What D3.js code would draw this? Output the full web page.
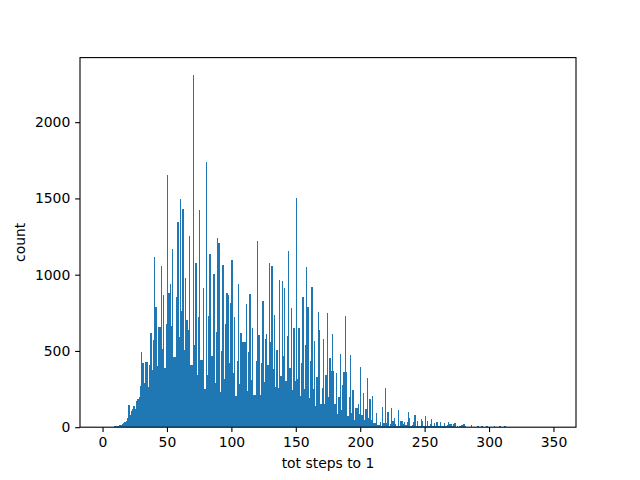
<!DOCTYPE html>
<html>
<head>
<meta charset="utf-8">
<script src="https://cdn.jsdelivr.net/npm/d3@7"></script>
<style>
  body { margin: 0; background: #fff; }
  svg { display: block; }
  .axis text { font-family: "DejaVu Sans", sans-serif; font-size: 13.9px; fill: #000; }
  .axis line { stroke: #000; stroke-width: 1.1; }
  .label { font-family: "DejaVu Sans", sans-serif; font-size: 13.9px; fill: #000; }
</style>
</head>
<body>
<div id="chart"></div>
<script>
// histogram counts, one bin per step count (bin k covers [k, k+1))
const countsSteps0 = [
  1, 1, 1, 1, 1, 2, 2, 4, 4, 6,
  6, 8, 10, 14, 17, 24, 26, 36, 40, 60,
  145, 79, 107, 120, 138, 122, 172, 183, 197, 269,
  492, 422, 289, 426, 426, 262, 407, 615, 376, 571,
  1115, 789, 400, 658, 658, 1056, 514, 870, 387, 675
];
const countsSteps50 = [
  1655, 881, 940, 665, 1170, 461, 461, 855, 1347, 592,
  1495, 761, 1430, 507, 977, 702, 636, 1253, 409, 409,
  2308, 538, 1076, 343, 721, 1423, 442, 442, 912, 251,
  1738, 343, 727, 1135, 466, 466, 1003, 289, 623, 1240,
  1207, 230, 498, 1062, 315, 675, 879, 866, 420, 813
];
const countsSteps100 = [
  1096, 354, 721, 203, 433, 938, 282, 616, 557, 557,
  557, 807, 236, 492, 872, 308, 649, 210, 210, 433,
  1220, 603, 210, 420, 826, 295, 577, 610, 407, 1075,
  557, 1056, 380, 734, 262, 505, 256, 964, 334, 957,
  466, 912, 302, 597, 1154, 387, 780, 243, 649, 300
];
const countsSteps150 = [
  1502, 315, 649, 203, 420, 853, 249, 538, 1049, 787,
  190, 433, 918, 249, 564, 138, 328, 754, 636, 151,
  256, 577, 151, 341, 748, 197, 452, 367, 610, 367,
  151, 354, 85, 197, 479, 111, 275, 361, 728, 361,
  72, 197, 472, 92, 243, 46, 125, 125, 150, 85
];
const countsSteps200 = [
  393, 79, 223, 46, 118, 321, 59, 184, 46, 203,
  26, 26, 92, 13, 13, 33, 10, 131, 26, 256,
  26, 98, 7, 20, 125, 39, 59, 20, 7, 111,
  7, 39, 39, 20, 33, 13, 33, 98, 59, 7,
  13, 33, 79, 7, 39, 7, 7, 52, 39, 7
];
const countsSteps250 = [
  72, 7, 39, 7, 20, 52, 7, 26, 7, 33,
  5, 7, 33, 5, 7, 26, 5, 13, 33, 20,
  20, 5, 20, 26, 4, 5, 4, 5, 13, 13,
  20, 7, 3, 4, 3, 3, 13, 3, 3, 3,
  3, 7, 2, 3, 7, 2, 3, 2, 7, 2
];
const countsSteps300 = [
  2, 3, 2, 2, 7, 2, 1, 2, 7, 1,
  2, 1, 7, 1, 1, 2, 1, 1, 1, 0,
  1, 0, 1, 1, 0, 1, 0, 1, 0, 0,
  1, 0, 0, 1, 0, 0, 0, 1, 0, 0,
  0, 1, 0, 0, 0, 0, 0, 0, 0, 1
];

const xTicks = [0, 50, 100, 150, 200, 250, 300, 350];
const yTicks = [0, 500, 1000, 1500, 2000];
const xLabel = 'tot steps to 1';
const yLabel = 'count';

const counts = [].concat(countsSteps0, countsSteps50, countsSteps100,
                         countsSteps150, countsSteps200, countsSteps250,
                         countsSteps300);
const bins = counts.map((c, i) => ({x0: i, x1: i + 1, count: c}));

// figure size and axes box (matplotlib defaults)
const width = 640;
const height = 480;
const margin = {top: 57.6, right: 64, bottom: 52.8, left: 80};
const innerW = width - margin.left - margin.right;
const innerH = height - margin.top - margin.bottom;

const svg = d3.select('#chart')
              .append('svg')
              .attr('width', width)
              .attr('height', height);

const g = svg.append('g')
             .attr('transform', `translate(${margin.left}, ${margin.top})`);

// x domain padded by 5% like matplotlib autoscale
const xMin = 0;
const xMax = 350;
const pad = (xMax - xMin) * 0.05;
const xScale = d3.scaleLinear()
                 .domain([xMin - pad, xMax + pad])
                 .range([0, innerW]);

const yScale = d3.scaleLinear()
                 .domain([0, d3.max(counts) * 1.05])
                 .range([innerH, 0]);

// bars
g.append('g')
 .selectAll('rect')
 .data(bins)
 .join('rect')
 .attr('x', d => xScale(d.x0))
 .attr('width', d => xScale(d.x1) - xScale(d.x0))
 .attr('y', d => yScale(d.count))
 .attr('height', d => yScale(0) - yScale(d.count))
 .attr('fill', '#1f77b4')
 .attr('shape-rendering', 'crispEdges');

const tickLen = 4.86;

// x axis
const xAxis = g.append('g')
               .attr('class', 'axis')
               .attr('transform', `translate(0, ${innerH})`)
               .call(
                 d3.axisBottom(xScale)
                   .tickValues(xTicks)
                   .tickSize(tickLen)
                   .tickPadding(4.86)
                   .tickFormat(d3.format('d'))
               );
xAxis.select('.domain').remove();

// y axis
const yAxis = g.append('g')
               .attr('class', 'axis')
               .call(
                 d3.axisLeft(yScale)
                   .tickValues(yTicks)
                   .tickSize(tickLen)
                   .tickPadding(4.86)
                   .tickFormat(d3.format('d'))
               );
yAxis.select('.domain').remove();

// spines
g.append('rect')
 .attr('width', innerW)
 .attr('height', innerH)
 .attr('fill', 'none')
 .attr('stroke', '#000')
 .attr('stroke-width', 1.1);

// axis labels
svg.append('text')
   .attr('class', 'label')
   .attr('x', margin.left + innerW / 2)
   .attr('y', 468)
   .attr('text-anchor', 'middle')
   .text(xLabel);

svg.append('text')
   .attr('class', 'label')
   .attr('transform', `translate(25, ${margin.top + innerH / 2}) rotate(-90)`)
   .attr('text-anchor', 'middle')
   .text(yLabel);
</script>
</body>
</html>
